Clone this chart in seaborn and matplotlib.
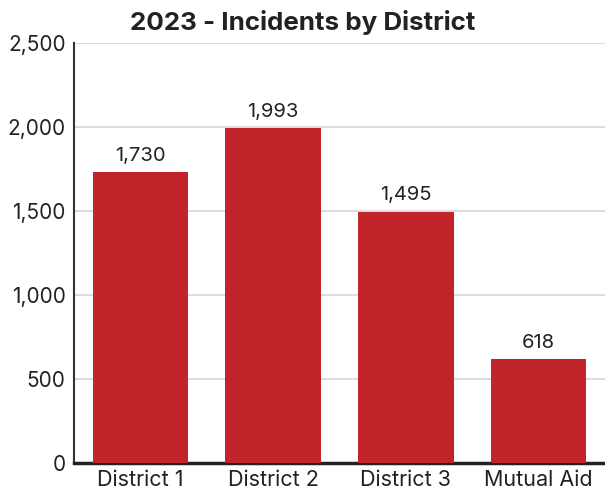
import matplotlib
matplotlib.use("Agg")
import matplotlib.pyplot as plt
import seaborn as sns
import pandas as pd

# data
districts = ["District 1", "District 2", "District 3", "Mutual Aid"]
incidents = [1730, 1993, 1495, 618]
y_ticks = [0, 500, 1000, 1500, 2000, 2500]

df = pd.DataFrame({"district": districts, "incidents": incidents})

sns.set_style("white")
plt.rcParams["font.family"] = ["Inter", "DejaVu Sans"]

fig = plt.figure(figsize=(6.05, 4.91), dpi=100)
ax = fig.add_axes([74 / 605, 28 / 491, 531 / 605, 420 / 491])

sns.barplot(data=df, x="district", y="incidents", color="#c1252b",
            saturation=1, width=0.72, linewidth=0, ax=ax, zorder=3)

ax.set_ylim(0, 2500)
ax.set_xlim(-0.5, 3.5)
ax.set_yticks(y_ticks)
ax.set_yticklabels([f"{v:,}" for v in y_ticks])
ax.yaxis.grid(True, color="#d6d6d6", linewidth=1.2, zorder=0)
ax.set_xlabel("")
ax.set_ylabel("")

# labels on bars
for i, v in enumerate(incidents):
    ax.text(i, v + 45, f"{v:,}", ha="center", va="bottom",
            fontsize=14.5, color="#222222")

# spines
for s in ["top", "right"]:
    ax.spines[s].set_visible(False)
ax.spines["left"].set_color("#333333")
ax.spines["left"].set_linewidth(1.5)
ax.spines["bottom"].set_color("#222222")
ax.spines["bottom"].set_linewidth(2.5)

ax.tick_params(axis="both", labelsize=15, colors="#222222", length=0)
ax.tick_params(axis="x", labelsize=15.5, pad=5)
ax.tick_params(axis="y", pad=6)
ax.set_xticks([0.5, 1.5, 2.5, 3.5], minor=True)
ax.tick_params(axis="x", which="minor", direction="in", length=9,
               width=1.2, color="#d6d6d6")

fig.suptitle("2023 - Incidents by District", x=0.5, y=0.98,
             fontsize=18.7, fontweight="bold", color="#222222")

plt.savefig("out.png", dpi=100)
